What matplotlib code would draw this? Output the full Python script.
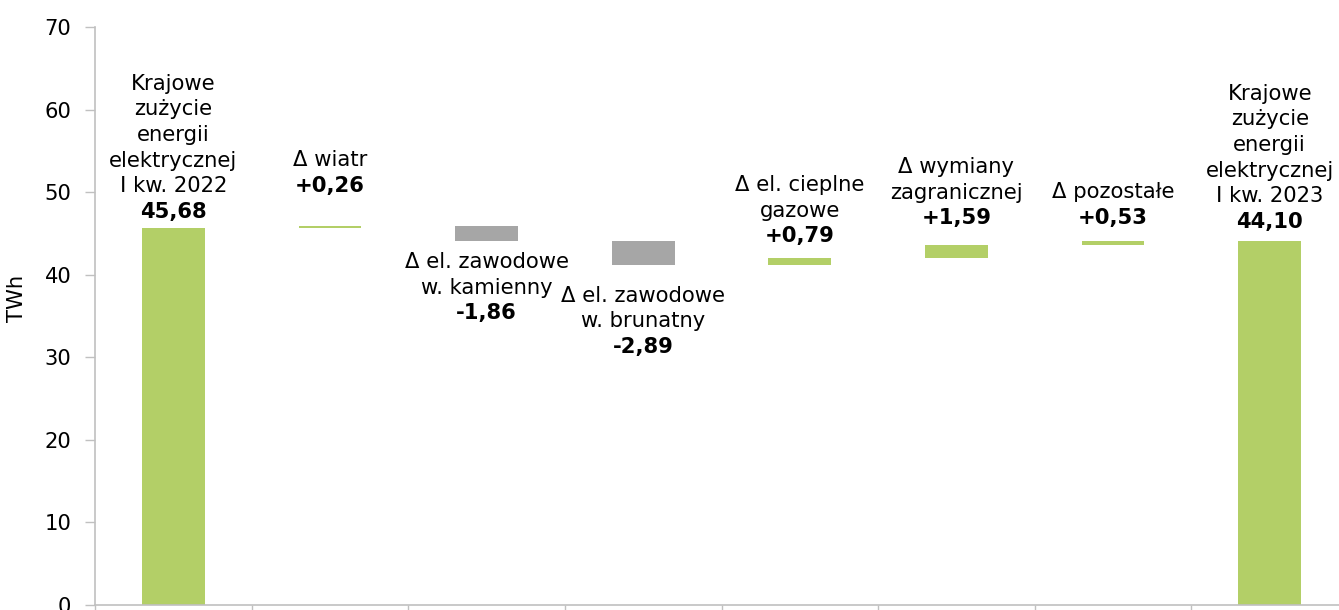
import matplotlib
matplotlib.use("Agg")
import matplotlib.pyplot as plt
import numpy as np

# Waterfall: domestic electricity consumption Q1 2022 -> Q1 2023 (TWh)
names = [
    "Krajowe\nzużycie\nenergii\nelektrycznej\nI kw. 2022",
    "Δ wiatr",
    "Δ el. zawodowe\nw. kamienny",
    "Δ el. zawodowe\nw. brunatny",
    "Δ el. cieplne\ngazowe",
    "Δ wymiany\nzagranicznej",
    "Δ pozostałe",
    "Krajowe\nzużycie\nenergii\nelektrycznej\nI kw. 2023",
]
values = [45.68, 0.26, -1.86, -2.89, 0.79, 1.59, 0.53, 44.10]
value_labels = ["45,68", "+0,26", "-1,86", "-2,89", "+0,79", "+1,59", "+0,53", "44,10"]
is_total = [True, False, False, False, False, False, False, True]

GREEN = "#b3cf67"
GREY = "#a6a6a6"
AXIS = "#c0c0c0"
FS = 15.2

# bar extents
bottoms, heights, colors = [], [], []
running = 0.0
for v, tot in zip(values, is_total):
    if tot:
        bottoms.append(0.0)
        heights.append(v)
        running = v
        colors.append(GREEN)
    else:
        lo = running if v >= 0 else running + v
        bottoms.append(lo)
        heights.append(abs(v))
        running += v
        colors.append(GREEN if v >= 0 else GREY)

fig = plt.figure(figsize=(13.39, 6.10), dpi=100)
ax = fig.add_axes([95 / 1339, 5 / 610, 1253 / 1339, 578 / 610])
x = np.arange(len(values))
ax.bar(x, heights, bottom=bottoms, width=0.4, color=colors, edgecolor="none", zorder=2)

ax.set_xlim(-0.5, len(values) - 0.5)
ax.set_ylim(0, 70)
ax.set_yticks(np.arange(0, 71, 10))
ax.set_xticks(np.arange(-0.5, len(values) - 0.5 + 0.01, 1.0))
ax.set_xticklabels([])
ax.tick_params(axis="x", direction="out", length=6, color=AXIS, width=1)
ax.tick_params(axis="y", direction="out", length=7, color=AXIS, width=1,
               labelsize=FS, pad=10)
for s in ("top", "right"):
    ax.spines[s].set_visible(False)
for s in ("left", "bottom"):
    ax.spines[s].set_color(AXIS)
    ax.spines[s].set_linewidth(1.2)
ax.set_ylabel("TWh", fontsize=FS)
ax.yaxis.set_label_coords(-0.054, 0.53)

# label placement (pixel gaps between bar end and label block)
pads = [6, 30, 11, 21, 12, 17, 13, 9]
pitch = 25.6
half = 10
for i, (nm, vl, v) in enumerate(zip(names, value_labels, values)):
    lines = nm.split("\n")
    top = bottoms[i] + heights[i]
    bot = bottoms[i]
    if v >= 0:
        y0 = pads[i] + half
        ax.annotate(vl, (x[i], top), xytext=(0, y0), textcoords="offset pixels",
                    ha="center", va="center", fontsize=FS, fontweight="bold")
        for k, ln in enumerate(reversed(lines)):
            ax.annotate(ln, (x[i], top), xytext=(0, y0 + pitch * (k + 1)),
                        textcoords="offset pixels", ha="center", va="center",
                        fontsize=FS)
    else:
        y0 = -(pads[i] + half)
        for k, ln in enumerate(lines):
            ax.annotate(ln, (x[i], bot), xytext=(0, y0 - pitch * k),
                        textcoords="offset pixels", ha="center", va="center",
                        fontsize=FS)
        ax.annotate(vl, (x[i], bot), xytext=(0, y0 - pitch * len(lines)),
                    textcoords="offset pixels", ha="center", va="center",
                    fontsize=FS, fontweight="bold")

fig.savefig("out.png", dpi=100)
